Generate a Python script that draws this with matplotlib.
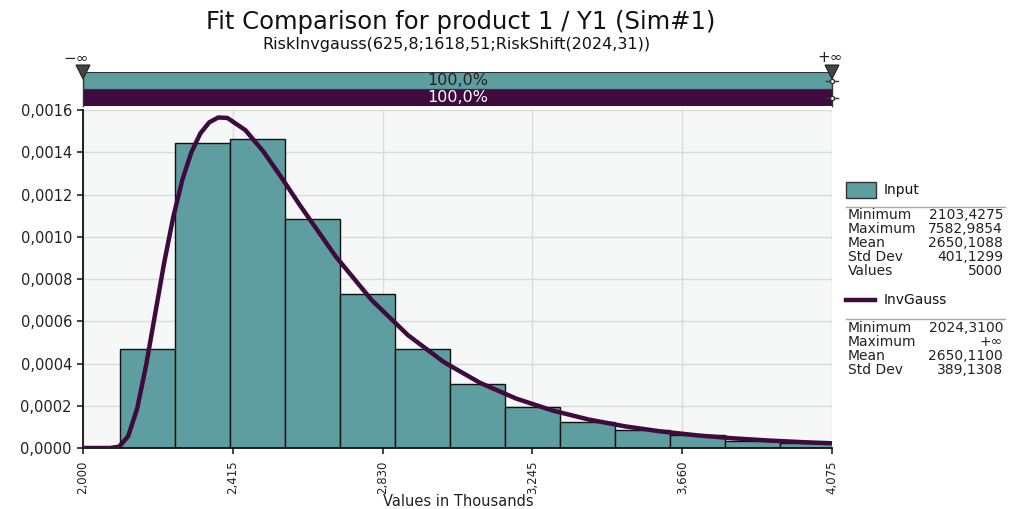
import matplotlib
matplotlib.use("Agg")
import matplotlib.pyplot as plt
from matplotlib.patches import Rectangle, Polygon
from matplotlib.lines import Line2D

# ---------------- data ----------------
title = "Fit Comparison for product 1 / Y1 (Sim#1)"
subtitle = "RiskInvgauss(625,8;1618,51;RiskShift(2024,31))"

bin_edges = [2103.43, 2255.64, 2407.85, 2560.06, 2712.27, 2864.48, 3016.69,
             3168.90, 3321.11, 3473.32, 3625.53, 3777.74, 3929.95, 4082.16]
bar_density = [0.000469, 0.001445, 0.001461, 0.001084, 0.000728, 0.000469,
               0.000302, 0.000196, 0.000122, 0.0000852, 0.000060, 0.0000347,
               0.000025]

curve_x = [2000, 2024.31, 2050, 2075, 2100, 2125, 2150, 2175, 2200, 2225, 2250,
           2275, 2300, 2325, 2350, 2375, 2400, 2450, 2500, 2550, 2600, 2700,
           2800, 2900, 3000, 3100, 3200, 3300, 3400, 3500, 3600, 3700, 3800,
           3900, 4000, 4075]
curve_y = [0.0, 0.0, 0.0, 0.00000006, 0.0000063, 0.0000554, 0.0001865,
           0.0003927, 0.0006361, 0.0008782, 0.0010931, 0.001268, 0.001399,
           0.001489, 0.001542, 0.0015646, 0.0015624, 0.0015045, 0.0014028,
           0.0012802, 0.0011515, 0.0009069, 0.0006997, 0.0005345, 0.0004063,
           0.0003084, 0.000234, 0.0001777, 0.00013517, 0.00010297, 0.00007859,
           0.0000601, 0.00004604, 0.00003534, 0.000027175, 0.00002234]

x_ticks = [2000, 2415, 2830, 3245, 3660, 4075]
x_tick_labels = ["2,000", "2,415", "2,830", "3,245", "3,660", "4,075"]
y_ticks = [0.0, 0.0002, 0.0004, 0.0006, 0.0008, 0.0010, 0.0012, 0.0014, 0.0016]
y_tick_labels = ["0,0000", "0,0002", "0,0004", "0,0006", "0,0008", "0,0010",
                 "0,0012", "0,0014", "0,0016"]
x_label = "Values in Thousands"

band_labels = ["100,0%", "100,0%"]
input_name = "Input"
input_stats = [("Minimum", "2103,4275"), ("Maximum", "7582,9854"),
               ("Mean", "2650,1088"), ("Std Dev", "401,1299"), ("Values", "5000")]
fit_name = "InvGauss"
fit_stats = [("Minimum", "2024,3100"), ("Maximum", "+\u221e"),
             ("Mean", "2650,1100"), ("Std Dev", "389,1308")]

# ---------------- style ----------------
TEAL = "#5F9EA0"
PURPLE = "#3F0A3D"
TXT = "#222222"
W, H = 1019, 509
plt.rcParams['font.family'] = ['DejaVu Sans']

fig = plt.figure(figsize=(W / 100, H / 100), dpi=100)
fig.patch.set_facecolor("white")

def fx(px):
    return px / W

def fy(py):
    return 1 - py / H

# main axes
L, R, T, B = 83, 832, 110, 448
ax = fig.add_axes([fx(L), fy(B), fx(R - L), (B - T) / H])
ax.set_facecolor("#F6F7F7")
widths = [bin_edges[i + 1] - bin_edges[i] for i in range(len(bar_density))]
ax.bar(bin_edges[:-1], bar_density, width=widths, align="edge", color=TEAL,
       edgecolor="#111111", linewidth=1.0, zorder=2)
ax.plot(curve_x, curve_y, color=PURPLE, linewidth=3.2, zorder=3,
        solid_capstyle="round", solid_joinstyle="round")
ax.set_xlim(x_ticks[0], x_ticks[-1])
ax.set_ylim(y_ticks[0], y_ticks[-1])
ax.set_xticks(x_ticks)
ax.set_xticklabels(x_tick_labels, rotation=90, fontsize=8.5, color=TXT)
ax.set_yticks(y_ticks)
ax.set_yticklabels(y_tick_labels, fontsize=10.5, color=TXT)
ax.grid(True, color="#DADADA", linewidth=1.0, zorder=0)
ax.set_axisbelow(True)
for s in ["top", "right"]:
    ax.spines[s].set_visible(False)
ax.spines["left"].set_color("#111111")
ax.spines["bottom"].set_color("#111111")
ax.spines["left"].set_linewidth(1.3)
ax.spines["bottom"].set_linewidth(1.3)
ax.tick_params(axis="x", length=4, width=1.2, color=TXT, pad=5)
ax.tick_params(axis="y", length=4, width=1.2, color=TXT, pad=4)
fig.text(fx(458), fy(501), x_label, ha="center", va="center", fontsize=10.5, color=TXT)

# titles
fig.text(fx(461), fy(22), title, ha="center", va="center", fontsize=17.5, color="#111111")
fig.text(fx(456), fy(45), subtitle, ha="center", va="center", fontsize=11.5, color="#111111")

# top bands
bax = fig.add_axes([fx(L), fy(106), fx(R - L), 34 / H])
bax.set_xlim(0, 1)
bax.set_ylim(0, 2)
bax.axis("off")
bax.add_patch(Rectangle((0, 1), 1, 1, facecolor=TEAL, edgecolor="#333333", linewidth=0.8))
bax.add_patch(Rectangle((0, 0), 1, 1, facecolor=PURPLE, edgecolor="#333333", linewidth=0.8))
bax.text(0.5, 1.5, band_labels[0], ha="center", va="center", fontsize=11.5, color=TXT)
bax.text(0.5, 0.5, band_labels[1], ha="center", va="center", fontsize=11.5, color="white")

# triangles and infinity labels
for px, lx, lab in [(L, 76, "\u2212\u221e"), (R, 830, "+\u221e")]:
    tri = Polygon([[fx(px - 7), fy(65)], [fx(px + 7), fy(65)], [fx(px), fy(79)]],
                  closed=True, transform=fig.transFigure, facecolor="#444444",
                  edgecolor="#222222", linewidth=0.8)
    fig.patches.append(tri)
    fig.add_artist(Line2D([fx(px), fx(px)], [fy(79), fy(106)], color="#333333", linewidth=1.0))
    fig.text(fx(lx), fy(58), lab, ha="center", va="center", fontsize=11, color=TXT)

# small markers on right of bands
for py in [81, 98]:
    fig.add_artist(Line2D([fx(R - 6), fx(R + 6)], [fy(py), fy(py)], color="#333333", linewidth=1.0))
    fig.add_artist(Line2D([fx(R)], [fy(py)], marker="o", markersize=3, markerfacecolor="white",
                          markeredgecolor="#333333", linestyle="none"))

# legend - Input
fs = 10
fig.patches.append(Rectangle((fx(846), fy(198)), fx(30), 16 / H, transform=fig.transFigure,
                             facecolor=TEAL, edgecolor="#333333", linewidth=1.0))
fig.text(fx(884), fy(190), input_name, ha="left", va="center", fontsize=fs, color="#111111")
fig.add_artist(Line2D([fx(846), fx(1005)], [fy(207), fy(207)], color="#AAAAAA", linewidth=1.0))
for i, (k, v) in enumerate(input_stats):
    yy = 215 + i * 14
    fig.text(fx(848), fy(yy), k, ha="left", va="center", fontsize=fs, color=TXT)
    fig.text(fx(1003), fy(yy), v, ha="right", va="center", fontsize=fs, color=TXT)

# legend - InvGauss
fig.add_artist(Line2D([fx(846), fx(875)], [fy(300), fy(300)], color=PURPLE, linewidth=3.2))
fig.text(fx(884), fy(300), fit_name, ha="left", va="center", fontsize=fs, color="#111111")
fig.add_artist(Line2D([fx(846), fx(1005)], [fy(319), fy(319)], color="#AAAAAA", linewidth=1.0))
for i, (k, v) in enumerate(fit_stats):
    yy = 328 + i * 14
    fig.text(fx(848), fy(yy), k, ha="left", va="center", fontsize=fs, color=TXT)
    fig.text(fx(1003), fy(yy), v, ha="right", va="center", fontsize=fs, color=TXT)

fig.savefig("out.png", dpi=100)
